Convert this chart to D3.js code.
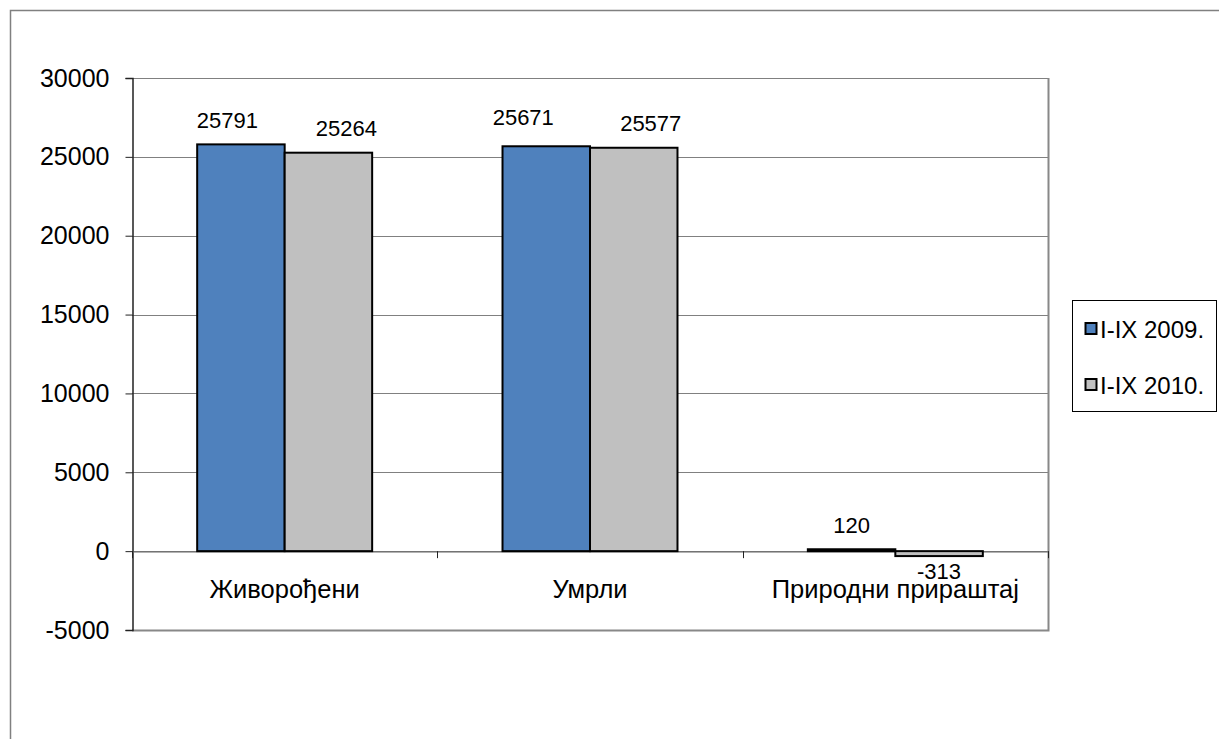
<!DOCTYPE html>
<html>
<head>
<meta charset="utf-8">
<script src="https://cdn.jsdelivr.net/npm/d3@7"></script>
<style>
  body { margin: 0; background: #fff; }
  text { font-family: "Liberation Sans", Arial, sans-serif; fill: #000; }
</style>
</head>
<body>
<script>
// data
var categories = ["Живорођени", "Умрли", "Природни прираштај"];
var seriesNames = ["I-IX 2009.", "I-IX 2010."];
var values2009 = [25791, 25671, 120];
var values2010 = [25264, 25577, -313];
var yTicks = [-5000, 0, 5000, 10000, 15000, 20000, 25000, 30000];
var colors = ["#4F81BD", "#C0C0C0"];

// the labels were nudged by hand in the original, keep those nudges here
var labelShiftX = [[-13.5, -23, 0], [18, 17, 0]];
var labelShiftY = [[0, -5, 0], [0, 0, 0]];

var width = 1219, height = 739;
var plot = {left: 132, right: 1048, top: 78, bottom: 630};

var svg = d3.select("body").append("svg")
    .attr("width", width)
    .attr("height", height);

// outer frame (runs off the right and bottom edge)
svg.append("rect")
    .attr("x", 10.5).attr("y", 10.5)
    .attr("width", 1300).attr("height", 800)
    .attr("fill", "none")
    .attr("stroke", "#808080")
    .attr("stroke-width", 1.5);

var y = d3.scaleLinear()
    .domain([-5000, 30000])
    .range([plot.bottom, plot.top]);

var x0 = d3.scaleBand()
    .domain(categories)
    .range([plot.left, plot.right]);

var x1 = d3.scaleBand()
    .domain(seriesNames)
    .range([0, x0.bandwidth()])
    .paddingOuter(0.745);

// gridlines
svg.append("g")
    .selectAll("line")
    .data(yTicks)
    .enter().append("line")
    .attr("x1", plot.left).attr("x2", plot.right)
    .attr("y1", function(d) { return Math.round(y(d)) + 0.5; })
    .attr("y2", function(d) { return Math.round(y(d)) + 0.5; })
    .attr("stroke", "#808080")
    .attr("stroke-width", 1);

// plot border right + bottom
svg.append("path")
    .attr("d", "M" + plot.left + "," + (plot.bottom + 0.5) + "H" + (plot.right + 0.5) + "V" + (plot.top))
    .attr("fill", "none")
    .attr("stroke", "#888")
    .attr("stroke-width", 2);

// y axis
var yAxis = d3.axisLeft(y)
    .tickValues(yTicks)
    .tickSize(7)
    .tickPadding(16)
    .tickFormat(function(d) { return String(d); });

var gy = svg.append("g")
    .attr("transform", "translate(" + (plot.left + 0.5) + ",0)")
    .call(yAxis);
gy.select(".domain").attr("stroke", "#222").attr("stroke-width", 1.5);
gy.selectAll(".tick line").attr("stroke", "#222");
gy.selectAll(".tick text")
    .style("font-size", "25px")
    .style("font-family", "'Liberation Sans', Arial, sans-serif")
    .attr("fill", "#000");

// x axis at zero
var xAxis = d3.axisBottom(x0)
    .tickSize(0);
var gx = svg.append("g")
    .attr("transform", "translate(0," + (Math.round(y(0)) + 0.5) + ")")
    .call(xAxis);
gx.select(".domain").attr("stroke", "#666");
gx.selectAll(".tick text")
    .attr("dy", null)
    .attr("y", 46.5)
    .style("font-size", "25.5px")
    .style("font-family", "'Liberation Sans', Arial, sans-serif")
    .attr("fill", "#000");

// category boundary ticks
var bounds = categories.map(function(c) { return x0(c); }).concat([plot.right]);
svg.append("g")
    .selectAll("line")
    .data(bounds)
    .enter().append("line")
    .attr("x1", function(d) { return Math.round(d) + 0.5; })
    .attr("x2", function(d) { return Math.round(d) + 0.5; })
    .attr("y1", y(0))
    .attr("y2", y(0) + 7)
    .attr("stroke", "#222");

// bars
var rows = categories.map(function(c, i) {
    return {cat: c, vals: [values2009[i], values2010[i]], i: i};
});

var group = svg.selectAll(".grp")
    .data(rows)
    .enter().append("g")
    .attr("class", "grp")
    .attr("transform", function(d) { return "translate(" + x0(d.cat) + ",0)"; });

group.selectAll("rect")
    .data(function(d) {
        return d.vals.map(function(v, j) { return {name: seriesNames[j], v: v, j: j, i: d.i}; });
    })
    .enter().append("rect")
    .attr("x", function(d) { return x1(d.name); })
    .attr("width", x1.bandwidth())
    .attr("y", function(d) { return y(Math.max(0, d.v)); })
    .attr("height", function(d) { return Math.abs(y(d.v) - y(0)); })
    .attr("fill", function(d) { return colors[d.j]; })
    .attr("stroke", "#000")
    .attr("stroke-width", 2);

group.selectAll(".lbl")
    .data(function(d) {
        return d.vals.map(function(v, j) { return {name: seriesNames[j], v: v, j: j, i: d.i}; });
    })
    .enter().append("text")
    .attr("class", "lbl")
    .attr("x", function(d) { return x1(d.name) + x1.bandwidth() / 2 + labelShiftX[d.j][d.i]; })
    .attr("y", function(d) {
        var base = d.v >= 0 ? y(d.v) - 16.5 : y(d.v) + 23;
        return base + labelShiftY[d.j][d.i];
    })
    .attr("text-anchor", "middle")
    .style("font-size", "22px")
    .text(function(d) { return d.v; });

// legend
var legend = svg.append("g");
legend.append("rect")
    .attr("x", 1072.5).attr("y", 300.5)
    .attr("width", 144).attr("height", 111)
    .attr("fill", "#fff")
    .attr("stroke", "#000");

var item = legend.selectAll(".item")
    .data(seriesNames)
    .enter().append("g")
    .attr("class", "item")
    .attr("transform", function(d, i) { return "translate(1085," + (328 + i * 56) + ")"; });

item.append("rect")
    .attr("x", 0.5).attr("y", -5)
    .attr("width", 11).attr("height", 11)
    .attr("fill", function(d, i) { return colors[i]; })
    .attr("stroke", "#000")
    .attr("stroke-width", 2);

item.append("text")
    .attr("x", 15)
    .attr("y", 10)
    .style("font-size", "24px")
    .text(function(d) { return d; });
</script>
</body>
</html>
